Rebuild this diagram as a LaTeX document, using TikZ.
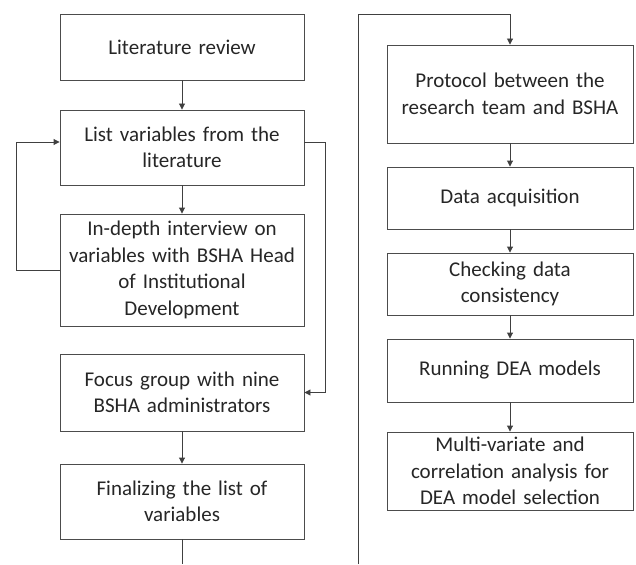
\documentclass[tikz,border=0pt]{standalone}
\usepackage{fontspec}
\setmainfont{Carlito}
\usetikzlibrary{arrows.meta}
\begin{document}
\begin{tikzpicture}[x=1pt,y=1pt,
  box/.style={draw=black!70, line width=0.9pt, fill=white, align=center, inner sep=2pt,
    font=\fontsize{21}{26.5}\selectfont, text=black!85},
  lbox/.style={box, minimum width=244pt, text width=238pt},
  rbox/.style={box, minimum width=246pt, text width=240pt},
  conn/.style={draw=black!75, line width=0.9pt, -{Triangle[length=6pt,width=6pt]}},
  plain/.style={draw=black!75, line width=0.9pt}]
\useasboundingbox (0,0) rectangle (636,-564);
% left column
\node[lbox, minimum height=66pt] (b1) at (182,-47) {Literature review};
\node[lbox, minimum height=75pt] (b2) at (182,-147.5) {List variables from the\\literature};
\node[lbox, minimum height=112pt] (b3) at (182,-270) {In-depth interview on\\variables with BSHA Head\\of Institutional\\Development};
\node[lbox, minimum height=77pt] (b4) at (182,-392.5) {Focus group with nine\\BSHA administrators};
\node[lbox, minimum height=75pt] (b5) at (182,-501.5) {Finalizing the list of\\variables};
% right column
\node[rbox, minimum height=98pt] (r1) at (510,-94) {Protocol between the\\research team and BSHA};
\node[rbox, minimum height=62pt] (r2) at (510,-198) {Data acquisition};
\node[rbox, minimum height=62pt] (r3) at (510,-284) {Checking data\\consistency};
\node[rbox, minimum height=63pt] (r4) at (510,-370.5) {Running DEA models};
\node[rbox, minimum height=78pt] (r5) at (510,-471) {Multi-variate and\\correlation analysis for\\DEA model selection};
% coordinates
\coordinate (lb) at (182,-564);
\coordinate (rb) at (358,-564);
\coordinate (rt) at (358,-14);
\coordinate (fbl) at (16,-270);
\coordinate (fbr) at (325,-142);
\coordinate (b2w) at ([yshift=5.5pt]b2.west);
\coordinate (b2e) at ([yshift=5.5pt]b2.east);
% connectors
\draw[conn] (b1) -- (b2);
\draw[conn] (b2) -- (b3);
\draw[conn] (b4) -- (b5);
\draw[conn] (b3.west) -- (fbl) |- (b2w);
\draw[conn] (b2e) -- (fbr) |- (b4.east);
\draw[plain] (b5.south) -- (lb);
\draw[conn] (rb) -- (rt) -| (r1.north);
\draw[conn] (r1) -- (r2);
\draw[conn] (r2) -- (r3);
\draw[conn] (r3) -- (r4);
\draw[conn] (r4) -- (r5);
\end{tikzpicture}
\end{document}
